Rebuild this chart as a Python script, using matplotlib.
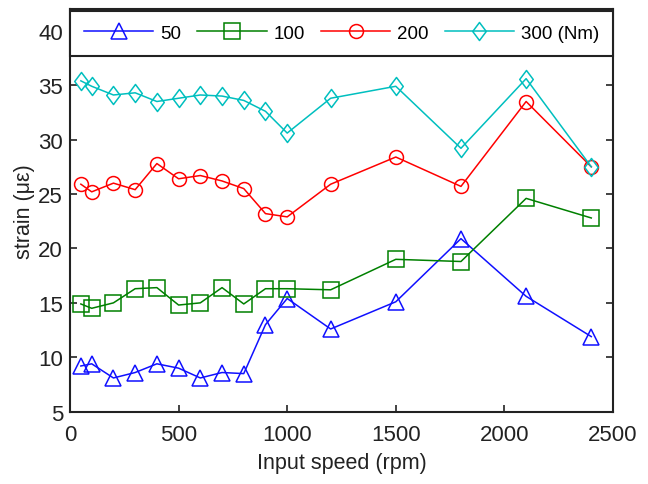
import matplotlib
matplotlib.use("Agg")
import matplotlib.pyplot as plt
from matplotlib.path import Path

speed = [50, 100, 200, 300, 400, 500, 600, 700, 800, 900, 1000, 1200, 1500, 1800, 2100, 2400]
strain_50 = [9.2, 9.4, 8.1, 8.6, 9.4, 9.0, 8.1, 8.6, 8.5, 13.0, 15.4, 12.6, 15.1, 20.9, 15.6, 11.9]
strain_100 = [14.9, 14.5, 15.0, 16.3, 16.4, 14.8, 15.0, 16.4, 14.9, 16.3, 16.3, 16.2, 19.0, 18.8, 24.6, 22.8]
strain_200 = [25.9, 25.2, 26.0, 25.4, 27.8, 26.4, 26.7, 26.2, 25.5, 23.2, 22.9, 25.9, 28.4, 25.7, 33.5, 27.5]
strain_300 = [35.4, 34.9, 34.1, 34.3, 33.5, 33.8, 34.1, 34.0, 33.6, 32.6, 30.6, 33.8, 34.9, 29.2, 35.6, 27.5]
labels = ["50", "100", "200", "300 (Nm)"]
xticks = [0, 500, 1000, 1500, 2000, 2500]
yticks = [5, 10, 15, 20, 25, 30, 35, 40]

plt.rcParams['font.family'] = ['Liberation Sans', 'DejaVu Sans']

fig = plt.figure(figsize=(6.48, 4.85), dpi=100)
ax = fig.add_axes([70/648, 1-412.7/485, (613-70)/648, (412.7-10)/485])

diamond = Path([(0, 1), (0.75, 0), (0, -1), (-0.75, 0), (0, 1)],
               [Path.MOVETO, Path.LINETO, Path.LINETO, Path.LINETO, Path.CLOSEPOLY])

series = [
    (strain_50, '#1010ff', '^', 11),
    (strain_100, '#008000', 's', 11),
    (strain_200, '#ff0000', 'o', 10),
    (strain_300, '#00bfbf', diamond, 13),
]
for (vals, col, mk, ms), lab in zip(series, labels):
    ax.plot(speed, vals, color=col, marker=mk, markersize=ms, markerfacecolor='none',
            markeredgecolor=col, markeredgewidth=1.1, linewidth=1.1, label=lab)

ax.set_xlim(0, 2500)
ax.set_ylim(5, 42)
ax.set_xticks(xticks)
ax.set_yticks(yticks)
ax.tick_params(direction='in', length=5, width=1.2, top=True, right=True,
               labelsize=16, colors='#222222')
ax.tick_params(axis='x', pad=9)
ax.tick_params(axis='y', pad=5)
for s in ax.spines.values():
    s.set_linewidth(1.5)
    s.set_color('#222222')

ax.set_xlabel("Input speed (rpm)", fontsize=15.5, color='#222222', labelpad=5)
ax.set_ylabel("strain (\u03bc\u03b5)", fontsize=15.5, color='#222222', labelpad=2)

h = 47/402.7
leg = ax.legend(loc='lower left', bbox_to_anchor=(0, 1-h, 1, h), mode='expand', ncol=4,
                fontsize=13.5, handlelength=3.7, handletextpad=0.35, borderpad=0.75,
                borderaxespad=0, fancybox=False, framealpha=1, edgecolor='#222222')
leg.get_frame().set_linewidth(1.5)

fig.savefig("out.png", dpi=100)
